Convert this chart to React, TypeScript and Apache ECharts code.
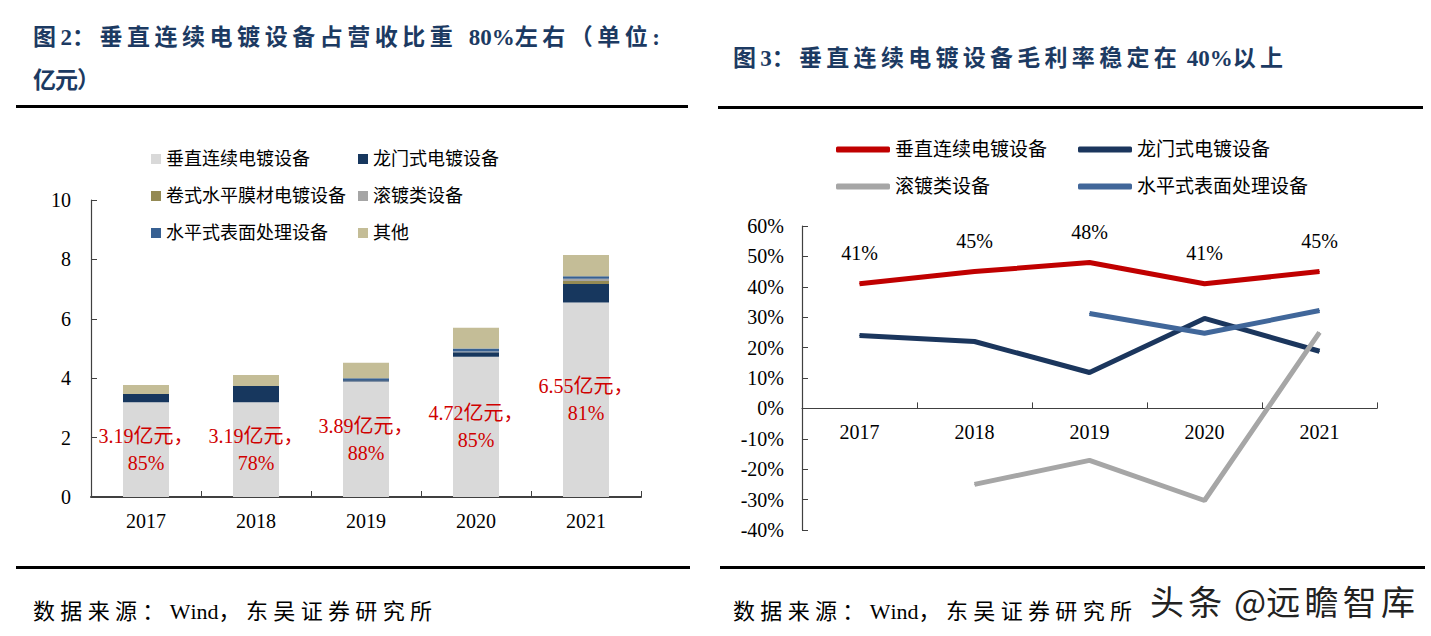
import React, { useEffect, useRef } from "react";
import * as echarts from "echarts";

const categories = ["2017", "2018", "2019", "2020", "2021"];

// Fig 2: revenue composition (亿元)
const vertical = [3.19, 3.19, 3.89, 4.72, 6.55];
const gantry = [0.28, 0.55, 0.04, 0.15, 0.62];
const rollFilm = [0, 0, 0, 0, 0.1];
const barrel = [0, 0, 0, 0.03, 0.08];
const horizontal = [0, 0, 0.07, 0.1, 0.08];
const others = [0.3, 0.37, 0.52, 0.7, 0.72];
const verticalShare = [85, 78, 88, 85, 81];
const leftTicks = [0, 2, 4, 6, 8, 10];

// Fig 3: gross margin (%)
const marginVertical = [41, 45, 48, 41, 45];
const marginGantry = [24.0, 22.0, 11.8, 29.6, 18.8];
const marginBarrel = [null, -25.0, -17.1, -30.3, 25.0];
const marginHorizontal = [null, null, 31.2, 24.7, 32.2];
const rightTicks = [-40, -30, -20, -10, 0, 10, 20, 30, 40, 50, 60];

const SERIF = "'Times New Roman', 'Liberation Serif', 'Noto Sans CJK SC', serif";
const NAVY_TITLE = "#1C3A62";

let measureCtx: CanvasRenderingContext2D | null = null;
function measure(text: string, font: string): number {
  if (!measureCtx) measureCtx = document.createElement("canvas").getContext("2d");
  if (!measureCtx) return text.length * 12;
  measureCtx.font = font;
  return measureCtx.measureText(text).width;
}

const isWide = (c: string) => c.charCodeAt(0) > 0x2e80;

// Lays out a string between x0 and x1, spreading extra space after wide (CJK) glyphs only.
function spacedText(text: string, x0: number, x1: number, y: number, font: string, style: any = {}) {
  const chars = Array.from(text);
  const widths = chars.map((c) => measure(c, font));
  const natural = widths.reduce((a, b) => a + b, 0);
  const slots = chars.filter((c, i) => i < chars.length - 1 && isWide(c)).length;
  const gap = slots > 0 ? (x1 - x0 - natural) / slots : 0;
  let cx = x0;
  const children = chars.map((c, i) => {
    const el = {
      type: "text",
      x: cx,
      y,
      style: { text: c, font, textVerticalAlign: "middle", verticalAlign: "middle", ...style },
    };
    cx += widths[i] + (isWide(c) ? gap : 0);
    return el;
  });
  return { type: "group", children };
}

export default function App() {
  const ref = useRef<HTMLDivElement>(null);

  useEffect(() => {
    document.body.style.margin = "0";
    if (!ref.current) return;
    const chart = echarts.init(ref.current, undefined, { renderer: "svg" });

    const names = ["垂直连续电镀设备", "龙门式电镀设备", "卷式水平膜材电镀设备", "滚镀类设备", "水平式表面处理设备", "其他"];
    const barColors = ["#D9D9D9", "#17375E", "#948A54", "#A5A5A5", "#376092", "#C4BD97"];
    const barData = [vertical, gantry, rollFilm, barrel, horizontal, others];

    const leftLegendPos = [
      [151, 150], [358, 150], [151, 187], [358, 187], [151, 224], [358, 224],
    ];
    const leftLegends = names.map((n, i) => ({
      data: [n],
      left: leftLegendPos[i][0],
      top: leftLegendPos[i][1],
      padding: 0,
      itemWidth: 10,
      itemHeight: 10,
      itemGap: 5,
      icon: "rect",
      selectedMode: false,
      textStyle: { fontSize: 18, fontFamily: SERIF, color: "#000" },
    }));

    const lineNames = ["垂直连续电镀设备", "龙门式电镀设备", "滚镀类设备", "水平式表面处理设备"];
    const lineColors = ["#C00000", "#1B365D", "#A6A6A6", "#41679A"];
    const lineData = [marginVertical, marginGantry, marginBarrel, marginHorizontal];
    const rightLegendPos = [[836, 140], [1078, 140], [836, 177], [1078, 177]];
    const rightLegends = lineNames.map((n, i) => ({
      data: [{ name: n, itemStyle: { color: lineColors[i] } }],
      left: rightLegendPos[i][0],
      top: rightLegendPos[i][1],
      padding: 0,
      itemWidth: 54,
      itemHeight: 6,
      itemGap: 6,
      icon: "roundRect",
      selectedMode: false,
      textStyle: { fontSize: 19, fontFamily: SERIF, color: "#000" },
    }));

    const barSeries = names.map((n, i) => ({
      name: n,
      type: "bar",
      stack: "rev",
      xAxisIndex: 0,
      yAxisIndex: 0,
      barWidth: 46,
      data: barData[i],
      itemStyle: { color: barColors[i] },
      label:
        i === 0
          ? {
              show: true,
              position: "inside",
              formatter: (p: any) => `${vertical[p.dataIndex].toFixed(2)}亿元，\n${verticalShare[p.dataIndex]}%`,
              color: "#D00000",
              fontSize: 20,
              lineHeight: 27,
              fontFamily: SERIF,
            }
          : { show: false },
    }));

    const lineSeries = lineNames.map((n, i) => ({
      name: n,
      type: "line",
      xAxisIndex: 1,
      yAxisIndex: 1,
      data: lineData[i],
      symbol: "circle",
      symbolSize: 1,
      connectNulls: false,
      lineStyle: { color: lineColors[i], width: 5 },
      itemStyle: { color: lineColors[i] },
      label:
        i === 0
          ? {
              show: true,
              position: "top",
              distance: 20,
              formatter: (p: any) => `${Math.round(p.value)}%`,
              color: "#000",
              fontSize: 20,
              fontFamily: SERIF,
            }
          : { show: false },
    }));

    const axisLabelStyle = { color: "#000", fontSize: 20, fontFamily: SERIF };
    const axisLineStyle = { lineStyle: { color: "#404040", width: 1.2 } };
    const rightGridTop = 226;
    const rightGridHeight = 304;
    const rMin = rightTicks[0];
    const rMax = rightTicks[rightTicks.length - 1];
    const zeroOffset = (rightGridHeight * (0 - rMin)) / (rMax - rMin);

    const titleFont = `bold 23px ${SERIF}`;
    const sourceFont = `22px ${SERIF}`;

    chart.setOption({
      animation: false,
      backgroundColor: "#fff",
      legend: [...leftLegends, ...rightLegends],
      grid: [
        { left: 91, top: 200, width: 550, height: 297 },
        { left: 802, top: rightGridTop, width: 575, height: rightGridHeight },
      ],
      xAxis: [
        {
          type: "category",
          gridIndex: 0,
          data: categories,
          axisLine: { show: true, lineStyle: { color: "#404040", width: 2 } },
          axisTick: { show: true, inside: true, length: 6, lineStyle: { color: "#404040" } },
          axisLabel: { ...axisLabelStyle, margin: 14 },
        },
        {
          type: "category",
          gridIndex: 1,
          data: categories,
          position: "bottom",
          offset: -zeroOffset,
          axisLine: { show: true, onZero: false, ...axisLineStyle },
          axisTick: { show: true, inside: true, length: 6, lineStyle: { color: "#404040" } },
          axisLabel: { ...axisLabelStyle, margin: 14 },
        },
      ],
      yAxis: [
        {
          type: "value",
          gridIndex: 0,
          min: leftTicks[0],
          max: leftTicks[leftTicks.length - 1],
          interval: 2,
          splitLine: { show: false },
          axisLine: { show: true, ...axisLineStyle },
          axisTick: { show: true, inside: true, length: 6, lineStyle: { color: "#404040" } },
          axisLabel: { ...axisLabelStyle, margin: 20 },
        },
        {
          type: "value",
          gridIndex: 1,
          min: rMin,
          max: rMax,
          interval: 10,
          splitLine: { show: false },
          axisLine: { show: true, ...axisLineStyle },
          axisTick: { show: true, inside: true, length: 6, lineStyle: { color: "#404040" } },
          axisLabel: { ...axisLabelStyle, margin: 18, formatter: (v: number) => `${v}%` },
        },
      ],
      series: [...barSeries, ...lineSeries],
      graphic: [
        spacedText("图2：垂直连续电镀设备占营收比重  80%左右（单位:", 33, 660, 37, titleFont, { fill: NAVY_TITLE }),
        spacedText("亿元）", 33, 100, 80, titleFont, { fill: NAVY_TITLE }),
        spacedText("图3：垂直连续电镀设备毛利率稳定在 40%以上", 733, 1283, 58, titleFont, { fill: NAVY_TITLE }),
        { type: "rect", shape: { x: 16, y: 105, width: 672, height: 3 }, style: { fill: "#000" } },
        { type: "rect", shape: { x: 718, y: 106, width: 705, height: 3 }, style: { fill: "#000" } },
        { type: "rect", shape: { x: 16, y: 566, width: 674, height: 3 }, style: { fill: "#000" } },
        { type: "rect", shape: { x: 720, y: 566, width: 705, height: 3 }, style: { fill: "#000" } },
        spacedText("数据来源：Wind，东吴证券研究所", 33, 432, 611, sourceFont, { fill: "#000" }),
        spacedText("数据来源：Wind，东吴证券研究所", 733, 1132, 611, sourceFont, { fill: "#000" }),
        spacedText("头条 @远瞻智库", 1150, 1415, 600, `34px 'Noto Sans CJK SC', sans-serif`, {
          fill: "#222",
          stroke: "#fff",
          lineWidth: 2,
        }),
      ],
    });

    return () => chart.dispose();
  }, []);

  return <div ref={ref} style={{ width: 1431, height: 636 }} />;
}
